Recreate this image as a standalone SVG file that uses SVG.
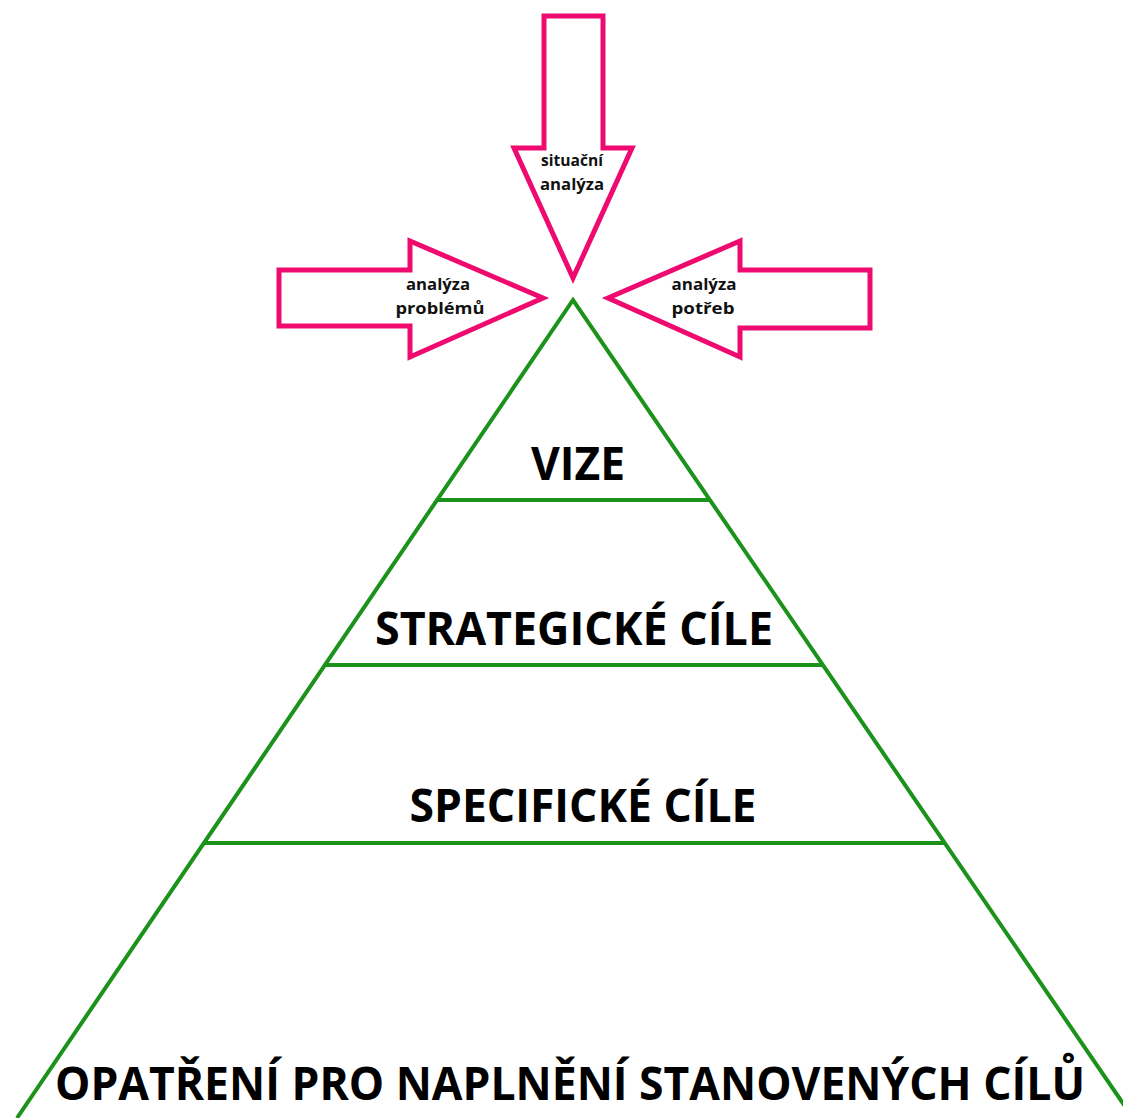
<svg xmlns="http://www.w3.org/2000/svg" width="1123" height="1118" viewBox="0 0 1123 1118">
<style>
.arrow{fill:#fff;stroke:#EE0A6E;stroke-width:5;stroke-linejoin:miter}
.edge{stroke:#1B931B;stroke-width:4;fill:none}
.small{font-family:"Open Sans","DejaVu Sans",sans-serif;font-weight:bold;font-size:16px;fill:#111;text-anchor:middle}
.big{font-family:"Open Sans","DejaVu Sans",sans-serif;font-weight:bold;font-size:46px;fill:#000;text-anchor:middle}
</style>
<rect width="1123" height="1118" fill="#fff"/>
<g id="arrow-situacni">
<polygon class="arrow" points="544,16 603,16 603,148 632,148 573,278 514,148 544,148"/>
<text class="small" x="572" y="166" textLength="62" lengthAdjust="spacingAndGlyphs">situační</text>
<text class="small" x="572" y="190" textLength="64" lengthAdjust="spacingAndGlyphs">analýza</text>
</g>
<g id="arrow-problemu">
<polygon class="arrow" points="279,270 410,270 410,241 543,298 410,357 410,326 279,326"/>
<text class="small" x="438" y="290" textLength="64" lengthAdjust="spacingAndGlyphs">analýza</text>
<text class="small" x="440" y="314" textLength="89" lengthAdjust="spacingAndGlyphs">problémů</text>
</g>
<g id="arrow-potreb">
<polygon class="arrow" points="870,270 740,270 740,241 608,298 740,357 740,328 870,328"/>
<text class="small" x="704" y="290" textLength="65" lengthAdjust="spacingAndGlyphs">analýza</text>
<text class="small" x="703" y="314" textLength="63" lengthAdjust="spacingAndGlyphs">potřeb</text>
</g>
<g id="connectors">
<polyline class="edge" points="17,1118 573,300 1133,1118"/>
<line class="edge" x1="437" y1="500" x2="710" y2="500"/>
<line class="edge" x1="325" y1="665" x2="823" y2="665"/>
<line class="edge" x1="204" y1="843" x2="945" y2="843"/>
</g>
<g id="vize"><text class="big" x="578" y="480" textLength="94" lengthAdjust="spacingAndGlyphs">VIZE</text></g>
<g id="strategicke"><text class="big" x="574" y="645" textLength="398" lengthAdjust="spacingAndGlyphs">STRATEGICKÉ CÍLE</text></g>
<g id="specificke"><text class="big" x="583" y="822" textLength="347" lengthAdjust="spacingAndGlyphs">SPECIFICKÉ CÍLE</text></g>
<g id="opatreni"><text class="big" x="570" y="1100" textLength="1030" lengthAdjust="spacingAndGlyphs">OPATŘENÍ PRO NAPLNĚNÍ STANOVENÝCH CÍLŮ</text></g>
</svg>
